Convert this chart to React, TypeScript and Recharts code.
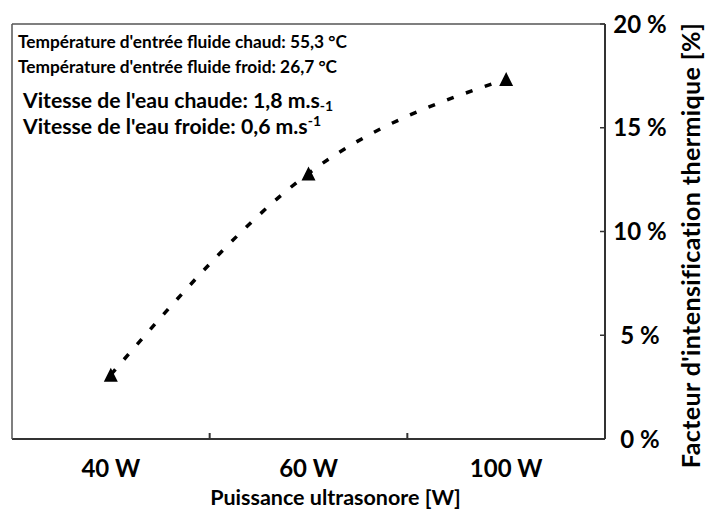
import { LineChart, Line, XAxis, YAxis, Label } from 'recharts';

const categories = ['40 W', '60 W', '100 W'];
const intensification = [3.1, 12.8, 17.35];
const yTicks = [0, 5, 10, 15, 20];

const notes = [
  { text: "Température d'entrée fluide chaud: 55,3 °C" },
  { text: "Température d'entrée fluide froid: 26,7 °C" },
  { text: "Vitesse de l'eau chaude: 1,8 m.s", sub: '-1' },
  { text: "Vitesse de l'eau froide: 0,6 m.s", sup: '-1' },
];

const data = categories.map((power, i) => ({ power, value: intensification[i] }));

const FONT = 'Lato, "Open Sans", sans-serif';
const AXIS = '#333';
const X_TICK_MARGIN = 38;

function Triangle(props: any) {
  const { cx, cy } = props;
  if (cx == null || cy == null) return null;
  return <polygon points={`${cx - 7},${cy + 7} ${cx + 7},${cy + 7} ${cx},${cy - 7}`} fill="#000" />;
}

// label in the band centre, small inward tick on the band's right edge
function XTick({ x, y, payload, index }: any) {
  const axisY = y - X_TICK_MARGIN;
  const edge = x + (payload.offset || 0);
  return (
    <g>
      {index < categories.length - 1 && (
        <line x1={edge} x2={edge} y1={axisY} y2={axisY - 6} stroke={AXIS} strokeWidth={2} />
      )}
      <text x={x} y={y} textAnchor="middle" fontFamily={FONT} fontWeight={700} fontSize={24} fill="#000">
        {payload.value}
      </text>
    </g>
  );
}

function YTick({ x, y, payload }: any) {
  return (
    <text x={x} y={y} dy="0.36em" textAnchor="middle" fontFamily={FONT} fontWeight={700} fontSize={24} fill="#000">
      {payload.value} %
    </text>
  );
}

export default function App() {
  // note positions: [left, baseline, font size]
  const notePos = [
    [18, 48, 17.3],
    [18, 73, 17.3],
    [23, 108, 21.2],
    [23, 134, 21.2],
  ];
  return (
    <div style={{ position: 'absolute', left: 0, top: 0, width: 708, height: 515, background: '#fff' }}>
      <LineChart width={708} height={515} data={data} margin={{ top: 23, right: 0, bottom: 0, left: 11 }}>
        <XAxis xAxisId="cat" dataKey="power" scale="band" height={76} tickLine={false} tickSize={0}
          tickMargin={X_TICK_MARGIN} axisLine={{ stroke: AXIS, strokeWidth: 2 }} tick={<XTick />} interval={0}>
          <Label
            content={({ viewBox }: any) => (
              <text x={viewBox.x + viewBox.width / 2 + 27} y={505} textAnchor="middle"
                fontFamily={FONT} fontWeight={700} fontSize={21.5} fill="#000">
                Puissance ultrasonore [W]
              </text>
            )}
          />
        </XAxis>
        <XAxis xAxisId="top" orientation="top" height={1} tick={false} tickLine={false}
          axisLine={{ stroke: '#555', strokeWidth: 1.5 }} />
        <YAxis yAxisId="frame" orientation="left" width={1} tick={false} tickLine={false}
          axisLine={{ stroke: '#555', strokeWidth: 1.5 }} />
        <YAxis yAxisId="value" orientation="right" width={103} domain={[0, 20]} ticks={yTicks}
          tickSize={-5} tickMargin={40} axisLine={{ stroke: AXIS, strokeWidth: 2 }}
          tickLine={{ stroke: AXIS, strokeWidth: 1.5 }} tick={<YTick />} interval={0}>
          <Label
            content={({ viewBox }: any) => (
              <text x={0} y={0} transform={`translate(${viewBox.x + 95}, ${viewBox.y + viewBox.height / 2 + 14}) rotate(-90)`}
                textAnchor="middle" fontFamily={FONT} fontWeight={700} fontSize={25} letterSpacing={0.4} fill="#000">
                Facteur d'intensification thermique [%]
              </text>
            )}
          />
        </YAxis>
        <Line xAxisId="cat" yAxisId="value" type="natural" dataKey="value" stroke="#000" strokeWidth={3.5}
          strokeDasharray="7 13" dot={<Triangle />} isAnimationActive={false} />
      </LineChart>
      <svg width={708} height={515} style={{ position: 'absolute', left: 0, top: 0, pointerEvents: 'none' }}>
        {notes.map((n, i) => (
          <text key={i} x={notePos[i][0]} y={notePos[i][1]} fontFamily={FONT} fontWeight={700}
            fontSize={notePos[i][2]} fill="#000">
            {n.text}
            {n.sub && <tspan fontSize={14} dy={3}>{n.sub}</tspan>}
            {n.sup && <tspan fontSize={14} dy={-8}>{n.sup}</tspan>}
          </text>
        ))}
      </svg>
    </div>
  );
}
